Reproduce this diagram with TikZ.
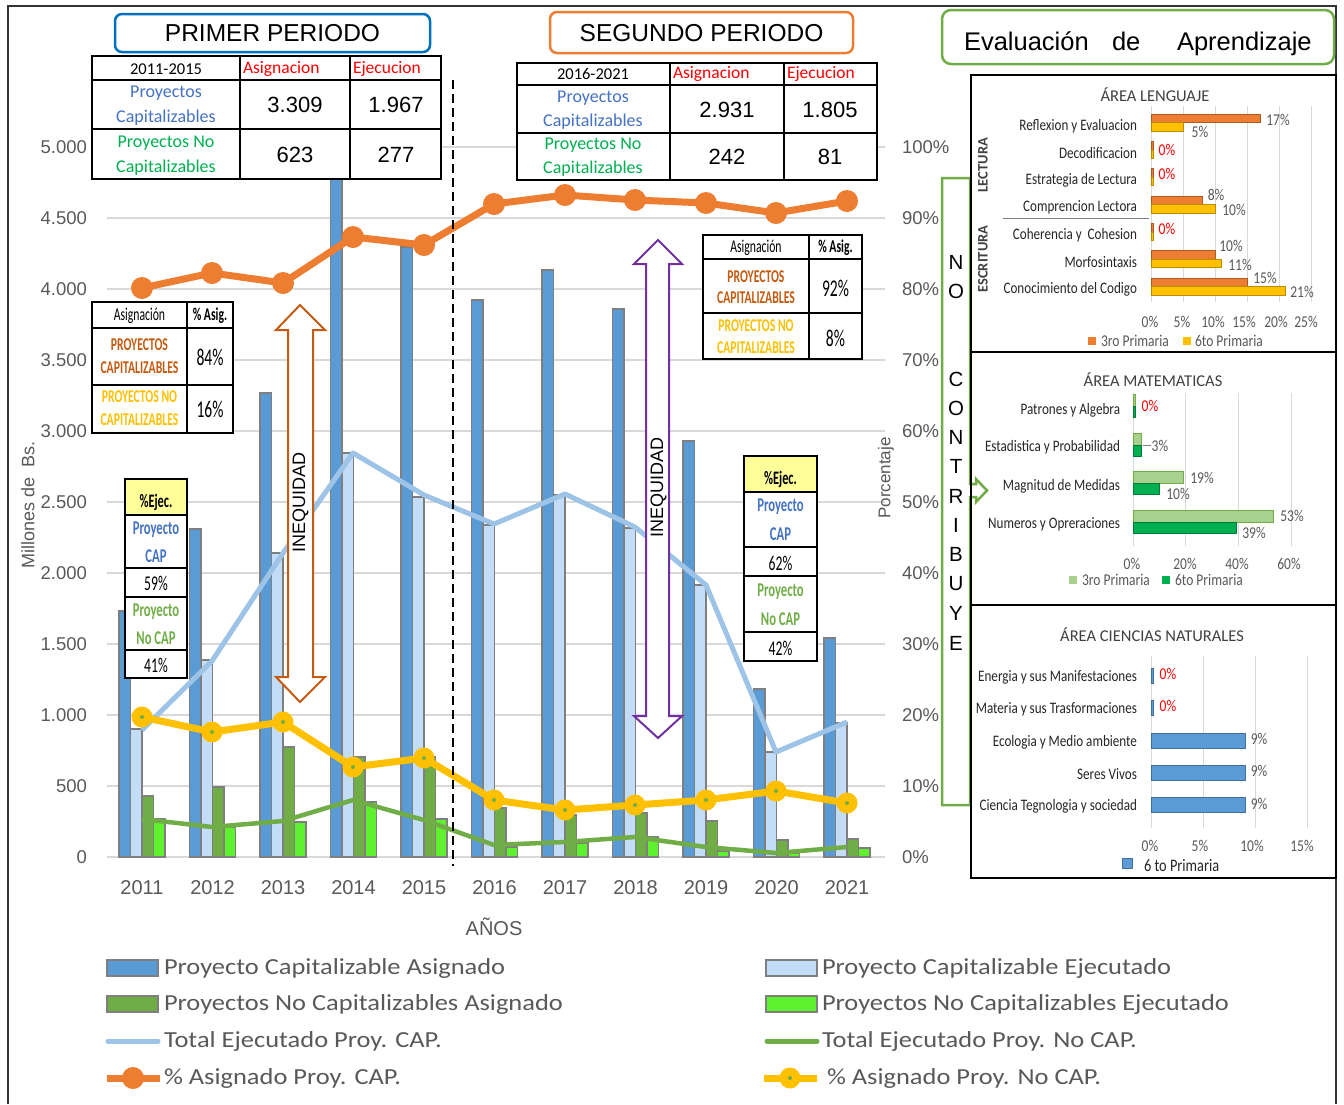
\documentclass[tikz,border=0pt]{standalone}
\usepackage{fontspec}
\setmainfont{Liberation Sans}
\newfontfamily\carl{Carlito}
\newfontfamily\carlc[FakeStretch=0.82]{Carlito}
\newfontfamily\carlcc[FakeStretch=0.65]{Carlito}
\newfontfamily\carlw[FakeStretch=1.15]{Carlito}
\newcommand\myfs[1]{\fontsize{#1}{#1}\selectfont}
\definecolor{cBlue}{HTML}{5B9BD5}
\definecolor{cLBlue}{HTML}{C3DCF7}
\definecolor{cGreen}{HTML}{70AD47}
\definecolor{cBGreen}{HTML}{5FF02E}
\definecolor{cLine}{HTML}{9DC3E6}
\definecolor{cOrange}{HTML}{ED7D31}
\definecolor{cYellow}{HTML}{FFC000}
\definecolor{cDOrange}{HTML}{C55A11}
\definecolor{cPurple}{HTML}{7030A0}
\definecolor{cTBlue}{HTML}{4472C4}
\definecolor{cTGreen}{HTML}{00B050}
\definecolor{cRed}{HTML}{FF0000}
\definecolor{cGrid}{HTML}{D9D9D9}
\definecolor{cAx}{HTML}{595959}
\definecolor{cDk}{HTML}{404040}
\definecolor{cPBlue}{HTML}{0070C0}
\definecolor{cLGreen}{HTML}{A9D18E}
\definecolor{cEjec}{HTML}{FFFF99}
\definecolor{cEdge}{HTML}{7F7F7F}
\definecolor{cBlueD}{HTML}{41719C}
\definecolor{cOrangeD}{HTML}{AE5A21}
\definecolor{cYellowD}{HTML}{BC8C00}
\definecolor{cTGreenD}{HTML}{007A38}
\tikzset{
 tx/.style={inner sep=0pt, outer sep=0pt},
 bar/.style={draw=cEdge, line width=1.3pt},
 tbl/.style={draw=black, line width=1.6pt},
 ax/.style={tx, font=\myfs{18.5}, text=cAx},
 leg/.style={tx, anchor=west, font=\carlw\myfs{23}, text=cAx},
 ttab/.style={tx, font=\carl\myfs{18}},
 num/.style={tx, font=\myfs{22}},
 sm/.style={tx, font=\carlcc\myfs{18}},
 smb/.style={tx, font=\carlcc\bfseries\myfs{18}},
 smn/.style={tx, font=\carlcc\myfs{24}},
 plab/.style={tx, anchor=east, font=\carlc\myfs{16}, text=black!85},
 pval/.style={tx, font=\carlc\myfs{16.5}, text=cAx},
 pzero/.style={tx, font=\carlc\myfs{16.5}, text=cRed},
 ptitle/.style={tx, font=\carl\myfs{16.5}, text=cDk},
 pgrid/.style={draw=cGrid, line width=1pt},
 vert/.style={tx, font=\myfs{20.5}},
}
\begin{document}
\begin{tikzpicture}[x=1pt,y=-1pt]
\useasboundingbox (0,0) rectangle (1344,1104);
\fill[white] (0,0) rectangle (1344,1104);
\draw[black!80, line width=1.5pt] (8,1104) -- (8,6) -- (1336,6) -- (1336,1104);

% ---------- grid ----------
\foreach \g in {147,218,289,360,431,502,573,644,715,786,857}
  \draw[cGrid, line width=1.6pt] (107,\g) -- (885,\g);

% ---------- bars ----------
\foreach \i/\a/\b/\c/\d in {0/611/729/796/819,1/529/660/787/827,2/393/553/747/822,3/160/453/757/802,4/247/497/757/819,5/300/525/808/847,6/270/495/815/843,7/309/528/813/837,8/441/585/821/851,9/689/752/840/853,10/638/723/839/848}{
  \pgfmathsetmacro\xc{142+70.5*\i}
  \draw[bar, fill=cBlue] (\xc-23,857) rectangle (\xc-11.5,\a);
  \draw[bar, fill=cLBlue] (\xc-11.5,857) rectangle (\xc,\b);
  \draw[bar, fill=cGreen] (\xc,857) rectangle (\xc+11.5,\c);
  \draw[bar, fill=cBGreen] (\xc+11.5,857) rectangle (\xc+23,\d);
}

% ---------- lines ----------
\draw[cLine, line width=5pt, line join=round] (142,730) -- (212,661) -- (283,553) -- (353,453) -- (424,495) -- (494,524) -- (565,494) -- (635,527) -- (706,585) -- (776,752) -- (847,722);
\draw[cGreen, line width=4.5pt, line join=round] (142,819) -- (212,827) -- (283,821) -- (353,800) -- (424,820) -- (494,845) -- (565,842) -- (635,837) -- (706,847) -- (776,853) -- (847,847);
\draw[cOrange, line width=7pt, line join=round] (142,288) -- (212,273) -- (283,283) -- (353,237) -- (424,245) -- (494,204) -- (565,195) -- (635,200) -- (706,203) -- (776,213) -- (847,201);
\foreach \x/\y in {142/288,212/273,283/283,353/237,424/245,494/204,565/195,635/200,706/203,776/213,847/201}
  \fill[cOrange] (\x,\y) circle (11pt);
\draw[cYellow, line width=7pt, line join=round] (142,717) -- (212,732) -- (283,722) -- (353,767) -- (424,758) -- (494,800) -- (565,810) -- (635,805) -- (706,800) -- (776,791) -- (847,803);
\foreach \x/\y in {142/717,212/732,283/722,353/767,424/758,494/800,565/810,635/805,706/800,776/791,847/803}{
  \fill[cYellow] (\x,\y) circle (10.5pt);
  \fill[cGreen] (\x,\y) circle (2pt);
}

% ---------- dashed separator ----------
\draw[black, line width=1.8pt, dash pattern=on 9pt off 5pt] (453,80) -- (453,866);

% ---------- INEQUIDAD arrows ----------
\draw[cDOrange, line width=2pt, fill=white, line join=miter] (300,305) -- (325,330) -- (313,330) -- (313,677) -- (325,677) -- (300,702) -- (276,677) -- (288,677) -- (288,330) -- (276,330) -- cycle;
\node[tx, rotate=90, font=\myfs{18}] (ineq1) at (300.5,502) {INEQUIDAD};
\draw[cPurple, line width=2pt, fill=white, line join=miter] (658,240) -- (682,264) -- (669,264) -- (669,716) -- (682,716) -- (658,738) -- (634,716) -- (646,716) -- (646,264) -- (634,264) -- cycle;
\node[tx, rotate=90, font=\myfs{18}] (ineq2) at (658.5,487) {INEQUIDAD};

% ---------- title boxes ----------
\draw[cPBlue, line width=2.5pt, fill=white, rounded corners=7pt] (115,14) rectangle (430,52);
\node[tx, font=\myfs{24.5}] (prim) at (272.5,33) {PRIMER PERIODO};
\draw[cOrange, line width=2.5pt, fill=white, rounded corners=7pt] (550,12) rectangle (853,53);
\node[tx, font=\myfs{24.5}] (seg) at (701.5,33) {SEGUNDO PERIODO};
\draw[cGreen, line width=2.5pt, fill=white, rounded corners=9pt] (942,10) rectangle (1334,64);
\node[tx, anchor=base west, font=\myfs{25.5}] (ev1) at (964,50) {Evaluación};
\node[tx, anchor=base west, font=\myfs{25.5}] (ev2) at (1112,50) {de};
\node[tx, anchor=base west, font=\myfs{25.5}] (ev3) at (1177,50) {Aprendizaje};

% ---------- table 1 ----------
\fill[white] (92,56) rectangle (441,179);
\draw[tbl] (92,56) rectangle (441,179) (92,80) -- (441,80) (92,129) -- (441,129) (240,56) -- (240,179) (350,56) -- (350,179);
\node[ttab, font=\carl\myfs{16.5}] (a1) at (166,69) {2011-2015};
\node[ttab, anchor=west, text=cRed, font=\carl\myfs{17.5}] (a2) at (243,69) {Asignacion};
\node[ttab, anchor=west, text=cRed, font=\carl\myfs{17.5}] (a3) at (353,69) {Ejecucion};
\node[ttab, text=cTBlue] (a4) at (166,93) {Proyectos};
\node[ttab, text=cTBlue] (a5) at (166,118) {Capitalizables};
\node[num] (a6) at (295,105) {3.309};
\node[num] (a7) at (396,105) {1.967};
\node[ttab, text=cTGreen] (a8) at (166,143) {Proyectos No};
\node[ttab, text=cTGreen] (a9) at (166,168) {Capitalizables};
\node[num] (a10) at (295,155) {623};
\node[num] (a11) at (396,155) {277};

% ---------- table 2 ----------
\fill[white] (517,63) rectangle (877,180);
\draw[tbl] (517,63) rectangle (877,180) (517,85) -- (877,85) (517,133) -- (877,133) (670,63) -- (670,180) (784,63) -- (784,180);
\node[ttab, font=\carl\myfs{16.5}] (b1) at (593,74) {2016-2021};
\node[ttab, anchor=west, text=cRed, font=\carl\myfs{17.5}] (b2) at (673,74) {Asignacion};
\node[ttab, anchor=west, text=cRed, font=\carl\myfs{17.5}] (b3) at (787,74) {Ejecucion};
\node[ttab, text=cTBlue] (b4) at (593,98) {Proyectos};
\node[ttab, text=cTBlue] (b5) at (593,122) {Capitalizables};
\node[num] (b6) at (727,110) {2.931};
\node[num] (b7) at (830,110) {1.805};
\node[ttab, text=cTGreen] (b8) at (593,145) {Proyectos No};
\node[ttab, text=cTGreen] (b9) at (593,169) {Capitalizables};
\node[num] (b10) at (727,157) {242};
\node[num] (b11) at (830,157) {81};

% ---------- small table 1 ----------
\fill[white] (92,302) rectangle (233,433);
\draw[tbl, line width=1.3pt] (92,302) rectangle (233,433) (92,328) -- (233,328) (92,385) -- (233,385) (187,302) -- (187,433);
\node[sm] (c1) at (139.5,316) {Asignación};
\node[smb] (c2) at (210,316) {\% Asig.};
\node[smb, text=cDOrange] (c3) at (139.5,345) {PROYECTOS};
\node[smb, text=cDOrange] (c4) at (139.5,368) {CAPITALIZABLES};
\node[smn] (c5) at (210,357) {84\%};
\node[smb, text=cYellow] (c6) at (139.5,397) {PROYECTOS NO};
\node[smb, text=cYellow] (c7) at (139.5,420) {CAPITALIZABLES};
\node[smn] (c8) at (210,409) {16\%};

% ---------- small table 2 ----------
\fill[white] (703,235) rectangle (862,359);
\draw[tbl, line width=1.3pt] (703,235) rectangle (862,359) (703,259) -- (862,259) (703,313) -- (862,313) (809,235) -- (809,359);
\node[sm] (d1) at (756,248) {Asignación};
\node[smb] (d2) at (835.5,248) {\% Asig.};
\node[smb, text=cDOrange] (d3) at (756,277) {PROYECTOS};
\node[smb, text=cDOrange] (d4) at (756,298) {CAPITALIZABLES};
\node[smn] (d5) at (835.5,288) {92\%};
\node[smb, text=cYellow] (d6) at (756,326) {PROYECTOS NO};
\node[smb, text=cYellow] (d7) at (756,348) {CAPITALIZABLES};
\node[smn] (d8) at (835.5,338) {8\%};

% ---------- %Ejec box 1 ----------
\fill[white] (125,479) rectangle (187,678);
\fill[cEjec] (125,479) rectangle (187,515);
\draw[tbl, line width=1.3pt] (125,479) rectangle (187,678) (125,515) -- (187,515) (125,568) -- (187,568) (125,597) -- (187,597) (125,650) -- (187,650);
\node[smb, font=\carlcc\bfseries\myfs{19}] (e1) at (156,502) {\%Ejec.};
\node[smb, text=cTBlue, font=\carlcc\bfseries\myfs{19.5}] (e2) at (156,530) {Proyecto};
\node[smb, text=cTBlue, font=\carlcc\bfseries\myfs{19.5}] (e3) at (156,556) {CAP};
\node[sm, font=\carlcc\myfs{21}] (e4) at (156,583) {59\%};
\node[smb, text=cGreen, font=\carlcc\bfseries\myfs{19.5}] (e5) at (156,612) {Proyecto};
\node[smb, text=cGreen, font=\carlcc\bfseries\myfs{19.5}] (e6) at (156,638) {No CAP};
\node[sm, font=\carlcc\myfs{21}] (e7) at (156,665) {41\%};

% ---------- %Ejec box 2 ----------
\fill[white] (744,456) rectangle (817,661);
\fill[cEjec] (744,456) rectangle (817,492);
\draw[tbl, line width=1.3pt] (744,456) rectangle (817,661) (744,492) -- (817,492) (744,547) -- (817,547) (744,576) -- (817,576) (744,632) -- (817,632);
\node[smb, font=\carlcc\bfseries\myfs{19}] (f1) at (780.5,479) {\%Ejec.};
\node[smb, text=cTBlue, font=\carlcc\bfseries\myfs{19.5}] (f2) at (780.5,507) {Proyecto};
\node[smb, text=cTBlue, font=\carlcc\bfseries\myfs{19.5}] (f3) at (780.5,534) {CAP};
\node[sm, font=\carlcc\myfs{21}] (f4) at (780.5,563) {62\%};
\node[smb, text=cGreen, font=\carlcc\bfseries\myfs{19.5}] (f5) at (780.5,592) {Proyecto};
\node[smb, text=cGreen, font=\carlcc\bfseries\myfs{19.5}] (f6) at (780.5,619) {No CAP};
\node[sm, font=\carlcc\myfs{21}] (f7) at (780.5,648) {42\%};

% ---------- axes ----------
\foreach \lab/\g [count=\n] in {0/857,500/786,1.000/715,1.500/644,2.000/573,2.500/502,3.000/431,3.500/360,4.000/289,4.500/218,5.000/147}
  \node[ax, anchor=east] (yl\n) at (87,\g) {\lab};
\foreach \lab/\g [count=\n] in {0\%/857,10\%/786,20\%/715,30\%/644,40\%/573,50\%/502,60\%/431,70\%/360,80\%/289,90\%/218,100\%/147}
  \node[ax, anchor=west] (yr\n) at (902,\g) {\lab};
\foreach \yr [count=\n from 0] in {2011,2012,2013,2014,2015,2016,2017,2018,2019,2020,2021}
  \node[ax, font=\myfs{20}] (yy\n) at ({142+70.5*\n},888) {\yr};
\node[ax, font=\myfs{20}] (anos) at (494,927) {AÑOS};
\node[ax, rotate=90, font=\myfs{18}] (mill) at (28,505) {Millones de\ \ Bs.};
\node[ax, rotate=90, font=\myfs{17}] (porc) at (886,478) {Porcentaje};

% ---------- legend ----------
\draw[bar, fill=cBlue] (107,960) rectangle (158,976);
\node[leg] (l1) at (164,968) {Proyecto Capitalizable Asignado};
\draw[bar, fill=cLBlue] (766,960) rectangle (817,976);
\node[leg] (l2) at (822,968) {Proyecto Capitalizable Ejecutado};
\draw[bar, fill=cGreen] (107,996) rectangle (158,1012);
\node[leg] (l3) at (164,1004) {Proyectos No Capitalizables Asignado};
\draw[bar, fill=cBGreen] (766,996) rectangle (817,1012);
\node[leg] (l4) at (822,1004) {Proyectos No Capitalizables Ejecutado};
\draw[cLine, line width=5pt, line cap=round] (108,1041) -- (158,1041);
\node[leg] (l5) at (164,1041) {Total Ejecutado Proy. CAP.};
\draw[cGreen, line width=5pt, line cap=round] (767,1041) -- (817,1041);
\node[leg] (l6) at (822,1041) {Total Ejecutado Proy. No CAP.};
\draw[cOrange, line width=7pt] (107,1078) -- (160,1078);
\fill[cOrange] (133,1078) circle (11pt);
\node[leg] (l7) at (164,1078) {\% Asignado Proy. CAP.};
\draw[cYellow, line width=7pt] (764,1078) -- (817,1078);
\fill[cYellow] (790,1078) circle (10.5pt);
\fill[cGreen] (790,1078) circle (2pt);
\node[leg] (l8) at (827,1078) {\% Asignado Proy. No CAP.};

% ---------- green bracket ----------
\draw[cGreen, line width=2.5pt, line join=miter] (970,178) -- (942,178) -- (942,805) -- (970,805) -- (970,497) -- (976,497) -- (976,502) -- (987,490.5) -- (976,479) -- (976,484) -- (970,484) -- cycle;
\foreach \ch/\y [count=\n] in {N/262,O/291,C/379,O/408,N/437,T/466,R/496,I/525,B/554,U/584,Y/613,E/643}
  \node[vert] (nc\n) at (956,\y) {\ch};

% ---------- right panels ----------
\draw[black, line width=1.8pt] (971,75) rectangle (1336,878) (971,352) -- (1336,352) (971,605) -- (1336,605);

% panel 1: lenguaje
\node[ptitle] (p1t) at (1155,95) {ÁREA LENGUAJE};
\foreach \k in {0,...,5} \draw[pgrid] ({1151+32*\k},106) -- ({1151+32*\k},302);
\foreach \r/\o/\vb in {122.5/17/5,150/0/0,177/0/0,204.5/8/10,232/0/0,259/10/11,286.5/15/21}{
  \pgfmathsetmacro\wo{max(6.4*\o,2.5)}
  \pgfmathsetmacro\wy{max(6.4*\vb,2.5)}
  \draw[fill=cOrange, draw=cOrangeD, line width=0.6pt] (1151,\r-8.5) rectangle (1151+\wo,\r);
  \draw[fill=cYellow, draw=cYellowD, line width=0.6pt] (1151,\r) rectangle (1151+\wy,\r+8.5);
}
\foreach \lbl/\y [count=\n] in {Reflexion y Evaluacion/126,Decodificacion/153,Estrategia de Lectura/180,Comprencion Lectora/207.5,Coherencia y\ \ Cohesion/235,Morfosintaxis/262,Conocimiento del Codigo/289}
  \node[plab] (pl\n) at (1137,\y) {\lbl};
\node[pval] (v1) at (1278,120) {17\%};
\node[pval] (v2) at (1200,132) {5\%};
\node[pzero] (v3) at (1167,150) {0\%};
\node[pzero] (v4) at (1167,174) {0\%};
\node[pval] (v5) at (1216,195) {8\%};
\node[pval] (v6) at (1234,210) {10\%};
\node[pzero] (v7) at (1167,229) {0\%};
\node[pval] (v8) at (1231,246) {10\%};
\node[pval] (v9) at (1240,265) {11\%};
\node[pval] (v10) at (1265,278) {15\%};
\node[pval] (v11) at (1302,292) {21\%};
\node[tx, rotate=90, font=\carl\bfseries\myfs{14.5}, text=cDk] (lect) at (983,165) {LECTURA};
\node[tx, rotate=90, font=\carl\bfseries\myfs{14.5}, text=cDk] (escr) at (983,259) {ESCRITURA};
\draw[cEdge, line width=0.8pt] (1003,218) -- (1149,218);
\foreach \lbl/\x [count=\n] in {0\%/1150,5\%/1182,10\%/1213,15\%/1244,20\%/1276,25\%/1306}
  \node[pval] (px\n) at (\x,322) {\lbl};
\fill[cOrange] (1088,337) rectangle (1096,345);
\node[pval, anchor=west] (pg1) at (1101,341) {3ro Primaria};
\fill[cYellow] (1183,337) rectangle (1191,345);
\node[pval, anchor=west] (pg2) at (1195,341) {6to Primaria};

% panel 2: matematicas
\node[ptitle] (p2t) at (1153,380) {ÁREA MATEMATICAS};
\foreach \k in {0,...,3} \draw[pgrid] ({1133+52.8*\k},393) -- ({1133+52.8*\k},546);
\foreach \r/\o/\vb in {406/0/0,445/3/3,483/19/10,522/53/39}{
  \pgfmathsetmacro\wo{max(2.64*\o,2)}
  \pgfmathsetmacro\wy{max(2.64*\vb,2)}
  \draw[fill=cLGreen, draw=cGreen, line width=0.6pt] (1133,\r-11.5) rectangle (1133+\wo,\r);
  \draw[fill=cTGreen, draw=cTGreenD, line width=0.6pt] (1133,\r) rectangle (1133+\wy,\r+11.5);
}
\foreach \lbl/\y [count=\n] in {Patrones y Algebra/410,Estadistica y Probabilidad/447,Magnitud de Medidas/486,Numeros y Opreraciones/524}
  \node[plab] (ml\n) at (1120,\y) {\lbl};
\node[pzero] (w1) at (1150,406) {0\%};
\draw[cEdge, line width=0.8pt] (1143,445) -- (1151,445);
\node[pval] (w2) at (1160,446) {3\%};
\node[pval] (w3) at (1202,478) {19\%};
\node[pval] (w4) at (1178,494) {10\%};
\node[pval] (w5) at (1292,516) {53\%};
\node[pval] (w6) at (1254,533) {39\%};
\foreach \lbl/\x [count=\n] in {0\%/1132,20\%/1185,40\%/1237,60\%/1289}
  \node[pval] (mx\n) at (\x,564) {\lbl};
\fill[cLGreen] (1069,576) rectangle (1077,584);
\node[pval, anchor=west] (mg1) at (1082,580) {3ro Primaria};
\fill[cTGreen] (1162,576) rectangle (1170,584);
\node[pval, anchor=west] (mg2) at (1175,580) {6to Primaria};

% panel 3: ciencias naturales
\node[ptitle] (p3t) at (1152,635) {ÁREA CIENCIAS NATURALES};
\foreach \k in {0,...,3} \draw[pgrid] ({1151+52.2*\k},656) -- ({1151+52.2*\k},828);
\foreach \r/\o in {676/0,708/0,741/9,773/9,805/9}{
  \pgfmathsetmacro\wo{max(10.5*\o,2.5)}
  \draw[fill=cBlue, draw=cBlueD, line width=0.8pt] (1151,\r-7.5) rectangle (1151+\wo,\r+7.5);
}
\foreach \lbl/\y [count=\n] in {Energia y sus Manifestaciones/677,Materia y sus Trasformaciones/709,Ecologia y Medio ambiente/742,Seres Vivos/774,Ciencia Tegnologia y sociedad/806}
  \node[plab] (cl\n) at (1137,\y) {\lbl};
\node[pzero] (z1) at (1168,674) {0\%};
\node[pzero] (z2) at (1168,706) {0\%};
\node[pval] (z3) at (1259,739) {9\%};
\node[pval] (z4) at (1259,771) {9\%};
\node[pval] (z5) at (1259,804) {9\%};
\foreach \lbl/\x [count=\n] in {0\%/1150,5\%/1200,10\%/1252,15\%/1302}
  \node[pval] (cx\n) at (\x,846) {\lbl};
\draw[fill=cBlue, draw=cBlueD, line width=0.6pt] (1122,858) rectangle (1132,868);
\node[pval, anchor=west, font=\carlc\myfs{17.5}, text=black!85] (cg1) at (1144,866) {6 to Primaria};
\end{tikzpicture}
\end{document}
